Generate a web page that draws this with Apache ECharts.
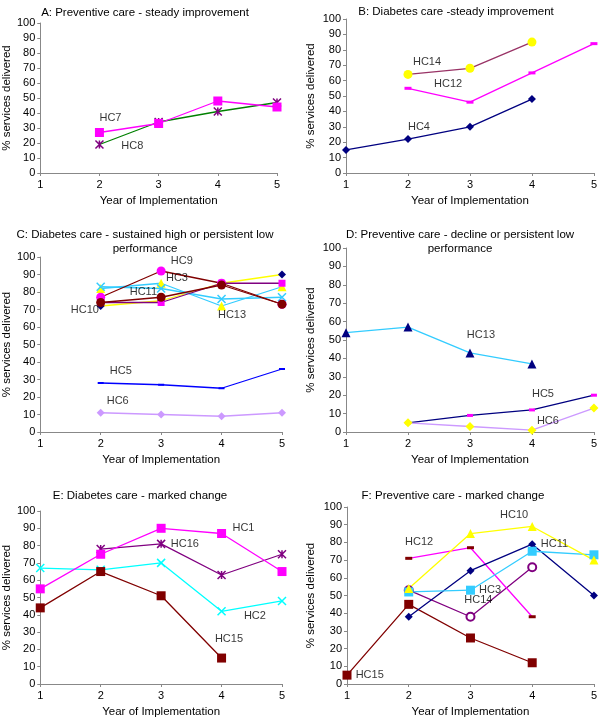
<!DOCTYPE html>
<html><head><meta charset="utf-8">
<script src="https://cdn.jsdelivr.net/npm/echarts@6/dist/echarts.min.js"></script>
<style>html,body{margin:0;padding:0;background:#fff}#c{width:600px;height:719px}</style>
</head><body><div id="c"></div>
<script>
// ---- data ----
const years = [1, 2, 3, 4, 5];
const yTicks = [0, 10, 20, 30, 40, 50, 60, 70, 80, 90, 100];

const titles = [
  'A: Preventive care - steady improvement',
  'B: Diabetes care -steady improvement',
  'C: Diabetes care - sustained high or persistent low\nperformance',
  'D: Preventive care - decline or persistent low\nperformance',
  'E: Diabetes care - marked change',
  'F: Preventive care - marked change'
];

// Panel A
const A_HC7 = [null, 27, 33, 48, 44];
const A_HC8 = [null, 19, 34, 41, 47];
// Panel B
const B_HC14 = [null, 64, 68, 85, null];
const B_HC12 = [null, 55, 46, 65, 84];
const B_HC4 = [15, 22, 30, 48, null];
// Panel C
const C_HC10 = [null, 72, 75, 85, 90];
const C_HC13 = [null, 82, 85, 72, 83];
const C_HC11 = [null, 83, 82, 76, 77];
const C_HC3 = [null, 74, 74, 85, 85];
const C_HC9 = [null, 77, 92, 85, 73];
const C_HCx = [null, 74, 77, 84, 73];
const C_HC5 = [null, 28, 27, 25, 36];
const C_HC6 = [null, 11, 10, 9, 11];
// Panel D
const D_HC13 = [54, 57, 43, 37, null];
const D_HC5 = [null, 5, 9, 12, 20];
const D_HC6 = [null, 5, 3, 1, 13];
// Panel E
const E_HC1 = [55, 75, 90, 87, 65];
const E_HC16 = [null, 78, 81, 63, 75];
const E_HC2 = [67, 66, 70, 42, 48];
const E_HC15 = [44, 65, 51, 15, null];
// Panel F
const F_HC10 = [null, 54, 85, 89, 70];
const F_HC12 = [null, 71, 77, 38, null];
const F_HC11 = [null, 38, 64, 79, 50];
const F_HC3 = [null, 52, 53, 75, 73];
const F_HC14 = [null, 53, 38, 66, null];
const F_HC15 = [5, 45, 26, 12, null];

// series labels: [text, year, value, side]
const A_labels = [['HC7', 2.0, 37, 'r'], ['HC8', 2.37, 18, 'r']];
const B_labels = [['HC14', 2.08, 72, 'r'], ['HC12', 2.42, 58, 'r'], ['HC4', 2.0, 30, 'r']];
const C_labels = [['HC9', 3.16, 97.5, 'r'], ['HC3', 3.08, 88, 'r'], ['HC11', 2.48, 80, 'r'], ['HC10', 1.97, 70, 'l'],
                  ['HC13', 3.94, 67, 'r'], ['HC5', 2.15, 35, 'r'], ['HC6', 2.1, 18, 'r']];
const D_labels = [['HC13', 2.95, 52.5, 'r'], ['HC5', 4.0, 20.5, 'r'], ['HC6', 4.08, 6, 'r']];
const E_labels = [['HC1', 4.18, 90, 'r'], ['HC16', 3.16, 81, 'r'], ['HC2', 4.37, 39.5, 'r'], ['HC15', 3.89, 26, 'r']];
const F_labels = [['HC10', 3.48, 95.5, 'r'], ['HC12', 1.94, 80, 'r'], ['HC11', 4.14, 79, 'r'], ['HC3', 3.14, 53, 'r'],
                  ['HC14', 2.9, 47.5, 'r'], ['HC15', 1.14, 5, 'r']];

// ---- styles ----
const MAG = '#FF00FF', NAVY = '#000080', MAROON = '#800000', PLUM = '#993366', PURPLE = '#800080',
      YEL = '#FFFF00', CYAN = '#00FFFF', SKY = '#33CCFF', BLUE = '#0000FF', LAV = '#CC99FF', GREEN = '#008000';
const X_SYM = 'path://M0,0L10,10M10,0L0,10';
const AST_SYM = 'path://M0,0L10,10M10,0L0,10M5,0L5,10';

const grids = [
  { left: 34, top: 23, width: 243, height: 150 },
  { left: 346, top: 19, width: 248, height: 154 },
  { left: 34, top: 257, width: 248, height: 175 },
  { left: 346, top: 248, width: 249, height: 184 },
  { left: 34, top: 511, width: 248, height: 177 },
  { left: 347, top: 507, width: 250, height: 181 }
];
const titlePos = [[140, 1], [451, 0], [140, 223], [455, 223], [135, 484], [448, 484]];
const yNameGap = [24, 29, 24, 29, 24, 30];

const FONT = 'Liberation Sans, Arial, sans-serif';

function pairs(vals) {
  const out = [];
  vals.forEach((v, i) => { if (v != null) out.push([years[i], v]); });
  return out;
}
function line(gi, name, vals, lineColor, sym, mColor, size, opts) {
  opts = opts || {};
  const stroke = opts.stroke;
  return {
    type: 'line', name, xAxisIndex: gi, yAxisIndex: gi, data: pairs(vals),
    symbol: sym, symbolSize: size, showSymbol: true,
    lineStyle: { color: lineColor, width: 1.3 },
    itemStyle: stroke ? { color: 'rgba(0,0,0,0)', borderColor: mColor, borderWidth: 1.5 }
                      : { color: mColor, borderWidth: opts.bw || 0 },
    animation: false, z: opts.z || 2
  };
}
function labels(gi, arr) {
  return {
    type: 'scatter', xAxisIndex: gi, yAxisIndex: gi, symbolSize: 0, silent: true, animation: false, z: 5,
    data: arr.map(a => ({
      value: [a[1], a[2]],
      label: { show: true, formatter: a[0], position: a[3] === 'l' ? 'left' : 'right', distance: 0,
               color: '#000', fontSize: 11, fontFamily: FONT }
    }))
  };
}

const series = [
  // A
  line(0, 'HC8', A_HC8, GREEN, AST_SYM, PURPLE, 8, { stroke: true }),
  line(0, 'HC7', A_HC7, MAG, 'rect', MAG, 9),
  labels(0, A_labels),
  // B
  line(1, 'HC4', B_HC4, NAVY, 'diamond', NAVY, 8),
  line(1, 'HC12', B_HC12, MAG, 'rect', MAG, [7, 3]),
  line(1, 'HC14', B_HC14, PLUM, 'circle', YEL, 9),
  labels(1, B_labels),
  // C
  line(2, 'HC6', C_HC6, LAV, 'diamond', LAV, 8),
  line(2, 'HC5', C_HC5, BLUE, 'rect', BLUE, [6, 2]),
  line(2, 'HC10', C_HC10, YEL, 'diamond', NAVY, 8),
  line(2, 'HC13', C_HC13, SKY, 'triangle', YEL, 9),
  line(2, 'HC11', C_HC11, SKY, X_SYM, SKY, 8, { stroke: true }),
  line(2, 'HC9', C_HC9, MAROON, 'circle', MAG, 9),
  line(2, 'HC3', C_HC3, PURPLE, 'rect', MAG, 7),
  line(2, 'HCx', C_HCx, MAROON, 'circle', MAROON, 9),
  labels(2, C_labels),
  // D
  line(3, 'HC13', D_HC13, SKY, 'triangle', NAVY, 9),
  line(3, 'HC5', D_HC5, NAVY, 'rect', MAG, [6, 3]),
  line(3, 'HC6', D_HC6, LAV, 'diamond', YEL, 9),
  labels(3, D_labels),
  // E
  line(4, 'HC2', E_HC2, CYAN, X_SYM, CYAN, 8, { stroke: true }),
  line(4, 'HC16', E_HC16, PURPLE, AST_SYM, PURPLE, 8, { stroke: true }),
  line(4, 'HC15', E_HC15, MAROON, 'rect', MAROON, 9),
  line(4, 'HC1', E_HC1, MAG, 'rect', MAG, 9),
  labels(4, E_labels),
  // F
  line(5, 'HC15', F_HC15, MAROON, 'rect', MAROON, 9),
  line(5, 'HC14', F_HC14, PURPLE, 'emptyCircle', PURPLE, 8, { bw: 1.3 }),
  line(5, 'HC12', F_HC12, MAG, 'rect', MAROON, [7, 3]),
  line(5, 'HC11', F_HC11, NAVY, 'diamond', NAVY, 8),
  line(5, 'HC3', F_HC3, SKY, 'rect', SKY, 9),
  line(5, 'HC10', F_HC10, YEL, 'triangle', YEL, 9),
  labels(5, F_labels)
];

const axisLine = { show: true, lineStyle: { color: '#888', width: 1 } };
const option = {
  backgroundColor: '#fff',
  animation: false,
  title: titles.map((t, i) => ({
    text: t, left: titlePos[i][0], top: titlePos[i][1], textAlign: 'center',
    textStyle: { fontFamily: FONT, fontSize: 11.5, fontWeight: 'normal', color: '#000', lineHeight: 14 }
  })),
  grid: grids,
  xAxis: grids.map((g, i) => ({
    type: 'value', gridIndex: i, min: 1, max: 5, interval: 1,
    name: 'Year of Implementation', nameLocation: 'middle', nameGap: 22,
    nameTextStyle: { fontFamily: FONT, fontSize: 11.5, color: '#000' },
    axisLine, axisTick: { show: true, length: 3, lineStyle: { color: '#888' } },
    axisLabel: { fontFamily: FONT, fontSize: 11, color: '#000', margin: 6 },
    splitLine: { show: false }
  })),
  yAxis: grids.map((g, i) => ({
    type: 'value', gridIndex: i, min: yTicks[0], max: yTicks[yTicks.length - 1], interval: 10,
    name: '% services delivered', nameLocation: 'middle', nameGap: yNameGap[i], nameRotate: 90,
    nameTextStyle: { fontFamily: FONT, fontSize: 11.5, color: '#000' },
    axisLine, axisTick: { show: true, length: 3, lineStyle: { color: '#888' } },
    axisLabel: { fontFamily: FONT, fontSize: 11, color: '#000', margin: 5 },
    splitLine: { show: false }
  })),
  series
};
const chart = echarts.init(document.getElementById('c'), null, { renderer: 'canvas' });
chart.setOption(option);
</script></body></html>
